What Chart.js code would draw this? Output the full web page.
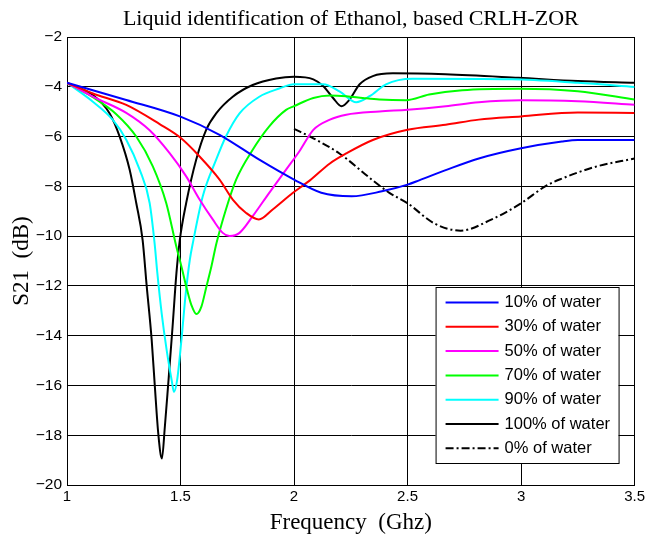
<!DOCTYPE html>
<html>
<head>
<meta charset="utf-8">
<script src="https://cdn.jsdelivr.net/npm/chart.js@4/dist/chart.umd.min.js"></script>
<style>
html,body{margin:0;padding:0;background:#fff;}
#wrap{width:648px;height:541px;}
</style>
</head>
<body>
<div id="wrap"><canvas id="c" width="648" height="541"></canvas></div>
<script>
// ---- data ----
const chartTitle = 'Liquid identification of Ethanol, based CRLH-ZOR';
const xTitle = 'Frequency  (Ghz)';
const yTitle = 'S21  (dB)';
const xTicks = [1, 1.5, 2, 2.5, 3, 3.5];
const yTicks = [-2, -4, -6, -8, -10, -12, -14, -16, -18, -20];
const seriesLabels = ['10% of water', '30% of water', '50% of water', '70% of water', '90% of water', '100% of water', '0% of water'];

const w10_f  = [1.0, 1.261, 1.5, 1.672, 1.847, 2.0, 2.12, 2.254, 2.387, 2.5, 2.551, 2.668, 2.814, 3.0, 3.18, 3.25, 3.5];
const w10_db = [-3.84, -4.53, -5.2, -5.93, -6.93, -7.73, -8.26, -8.40, -8.20, -7.93, -7.76, -7.35, -6.88, -6.47, -6.2, -6.14, -6.14];

const w30_f  = [1.0, 1.114, 1.261, 1.408, 1.5, 1.584, 1.672, 1.73, 1.789, 1.845, 1.906, 1.994, 2.07, 2.158, 2.23, 2.347, 2.5, 2.668, 2.814, 3.0, 3.25, 3.5];
const w30_db = [-3.84, -4.27, -4.73, -5.5, -6.05, -6.8, -7.73, -8.53, -9.07, -9.33, -8.93, -8.27, -7.76, -7.08, -6.68, -6.14, -5.73, -5.53, -5.32, -5.19, -5.03, -5.05];

const w50_f  = [1.0, 1.114, 1.261, 1.364, 1.452, 1.525, 1.584, 1.642, 1.686, 1.716, 1.76, 1.818, 1.89, 1.965, 2.023, 2.085, 2.158, 2.23, 2.376, 2.5, 2.668, 2.814, 3.0, 3.25, 3.5];
const w50_db = [-3.84, -4.4, -5.05, -5.75, -6.67, -7.6, -8.53, -9.33, -9.87, -10.0, -9.87, -9.2, -8.27, -7.33, -6.6, -5.73, -5.32, -5.12, -4.99, -4.92, -4.78, -4.62, -4.54, -4.58, -4.72];

const w70_f  = [1.0, 1.114, 1.217, 1.305, 1.378, 1.437, 1.481, 1.504, 1.529, 1.548, 1.57, 1.592, 1.614, 1.636, 1.658, 1.70, 1.745, 1.818, 1.89, 1.965, 2.0, 2.085, 2.158, 2.23, 2.303, 2.376, 2.493, 2.595, 2.741, 2.989, 3.25, 3.5];
const w70_db = [-3.84, -4.42, -5.1, -6.0, -7.2, -8.67, -10.4, -11.22, -12.16, -12.77, -13.13, -12.83, -12.03, -11.22, -10.3, -8.93, -7.73, -6.53, -5.6, -4.93, -4.78, -4.45, -4.35, -4.38, -4.45, -4.51, -4.54, -4.31, -4.14, -4.08, -4.18, -4.51];

const w90_f  = [1.0, 1.114, 1.202, 1.261, 1.32, 1.364, 1.386, 1.398, 1.417, 1.439, 1.461, 1.471, 1.485, 1.504, 1.523, 1.541, 1.556, 1.598, 1.657, 1.70, 1.76, 1.847, 1.935, 2.0, 2.128, 2.2, 2.274, 2.333, 2.405, 2.522, 2.96, 3.25, 3.5];
const w90_db = [-3.84, -4.6, -5.33, -6.13, -7.33, -8.67, -10.3, -11.49, -13.1, -14.58, -15.79, -16.26, -15.79, -14.17, -12.3, -10.95, -10.2, -8.4, -6.93, -6.0, -5.07, -4.4, -4.07, -3.9, -3.9, -4.18, -4.62, -4.38, -3.9, -3.68, -3.7, -3.84, -4.01];

const w100_f  = [1.0, 1.114, 1.188, 1.232, 1.276, 1.305, 1.333, 1.351, 1.373, 1.387, 1.402, 1.418, 1.431, 1.446, 1.465, 1.482, 1.497, 1.525, 1.569, 1.613, 1.657, 1.73, 1.818, 1.921, 2.0, 2.085, 2.128, 2.172, 2.209, 2.245, 2.289, 2.347, 2.435, 2.668, 2.989, 3.25, 3.5];
const w100_db = [-3.86, -4.33, -5.07, -6.0, -7.33, -8.67, -10.15, -12.0, -14.17, -16.05, -17.93, -18.94, -17.66, -15.92, -13.64, -11.49, -10.15, -8.67, -6.93, -5.73, -5.07, -4.4, -3.93, -3.67, -3.6, -3.7, -3.97, -4.45, -4.78, -4.51, -3.9, -3.57, -3.46, -3.5, -3.64, -3.77, -3.84];

const w0_f  = [2.0, 2.085, 2.2, 2.347, 2.42, 2.5, 2.618, 2.734, 2.866, 3.0, 3.11, 3.18, 3.325, 3.5];
const w0_db = [-5.69, -6.07, -6.68, -7.76, -8.26, -8.68, -9.49, -9.78, -9.35, -8.68, -7.98, -7.69, -7.22, -6.88];

const seriesF  = [w10_f, w30_f, w50_f, w70_f, w90_f, w100_f, w0_f];
const seriesDb = [w10_db, w30_db, w50_db, w70_db, w90_db, w100_db, w0_db];
const seriesColors = ['#0000ff', '#ff0000', '#ff00ff', '#00ff00', '#00ffff', '#000000', '#000000'];
const seriesDash = [[], [], [], [], [], [], [8, 3, 2, 3]];

function toPoints(fs, ds) { return fs.map((f, i) => ({ x: f, y: ds[i] })); }

const datasets = seriesLabels.map((lab, i) => ({
  label: lab,
  data: toPoints(seriesF[i], seriesDb[i]),
  showLine: true,
  borderColor: seriesColors[i],
  backgroundColor: seriesColors[i],
  borderWidth: 2,
  borderDash: seriesDash[i],
  pointRadius: 0,
  cubicInterpolationMode: 'monotone',
  fill: false
}));

const SANS = '"Liberation Sans", Arial, sans-serif';
const SERIF = '"Liberation Serif", "Times New Roman", serif';

const bgPlugin = {
  id: 'bg',
  beforeDraw(chart) {
    const ctx = chart.ctx;
    ctx.save();
    ctx.fillStyle = '#fff';
    ctx.fillRect(0, 0, chart.width, chart.height);
    ctx.restore();
  }
};

const titlePlugin = {
  id: 'ttl',
  afterDraw(chart) {
    const ctx = chart.ctx, a = chart.chartArea;
    ctx.save();
    ctx.font = '22px ' + SERIF;
    ctx.fillStyle = '#000';
    ctx.textAlign = 'center';
    ctx.textBaseline = 'alphabetic';
    ctx.fillText(chartTitle, (a.left + a.right) / 2, a.top - 12);
    ctx.restore();
  }
};

const legendPlugin = {
  id: 'boxLegend',
  afterDraw(chart) {
    const ctx = chart.ctx, a = chart.chartArea;
    const right = a.right - 16, bottom = a.bottom - 22;
    const w = 183, h = 176;
    const left = right - w, top = bottom - h;
    ctx.save();
    ctx.fillStyle = '#fff';
    ctx.fillRect(left, top, w, h);
    ctx.strokeStyle = '#000';
    ctx.lineWidth = 1;
    ctx.strokeRect(left + 0.5, top + 0.5, w, h);
    ctx.font = '16.5px ' + SANS;
    ctx.textBaseline = 'middle';
    ctx.textAlign = 'left';
    chart.data.datasets.forEach((ds, i) => {
      const y = top + 15.5 + i * 24.3;
      ctx.strokeStyle = ds.borderColor;
      ctx.lineWidth = 2;
      ctx.setLineDash(ds.borderDash || []);
      ctx.beginPath();
      ctx.moveTo(left + 10, y);
      ctx.lineTo(left + 63, y);
      ctx.stroke();
      ctx.setLineDash([]);
      ctx.fillStyle = '#000';
      ctx.fillText(ds.label, left + 69, y);
    });
    ctx.restore();
  }
};

new Chart(document.getElementById('c'), {
  type: 'scatter',
  data: { datasets },
  options: {
    responsive: false,
    animation: false,
    layout: { padding: { top: 37, right: 12, left: 0, bottom: 0 } },
    plugins: {
      legend: { display: false },
      title: { display: false },
      tooltip: { enabled: false }
    },
    scales: {
      x: {
        type: 'linear',
        min: xTicks[0],
        max: xTicks[xTicks.length - 1],
        afterBuildTicks(s) { s.ticks = xTicks.map(v => ({ value: v })); },
        afterFit(s) { s.height = 56; },
        ticks: {
          color: '#000',
          font: { family: SANS, size: 15 },
          padding: 3,
          maxRotation: 0,
          callback: v => String(v)
        },
        grid: { color: '#000', lineWidth: 1, drawTicks: false },
        border: { display: true, color: '#000', width: 1 },
        title: {
          display: true, text: xTitle, color: '#000',
          font: { family: SERIF, size: 23 },
          padding: { top: 0, bottom: 4 }
        }
      },
      y: {
        type: 'linear',
        min: yTicks[yTicks.length - 1],
        max: yTicks[0],
        afterBuildTicks(s) { s.ticks = yTicks.slice().reverse().map(v => ({ value: v })); },
        afterFit(s) { s.width = 67; },
        ticks: {
          color: '#000',
          font: { family: SANS, size: 15.5 },
          padding: 5,
          callback: v => String(v).replace('-', '\u2212')
        },
        grid: { color: '#000', lineWidth: 1, drawTicks: false },
        border: { display: true, color: '#000', width: 1 },
        title: {
          display: true, text: yTitle, color: '#000',
          font: { family: SERIF, size: 23 },
          padding: { top: 8, bottom: 0 }
        }
      }
    }
  },
  plugins: [bgPlugin, titlePlugin, legendPlugin]
});
</script>
</body>
</html>
